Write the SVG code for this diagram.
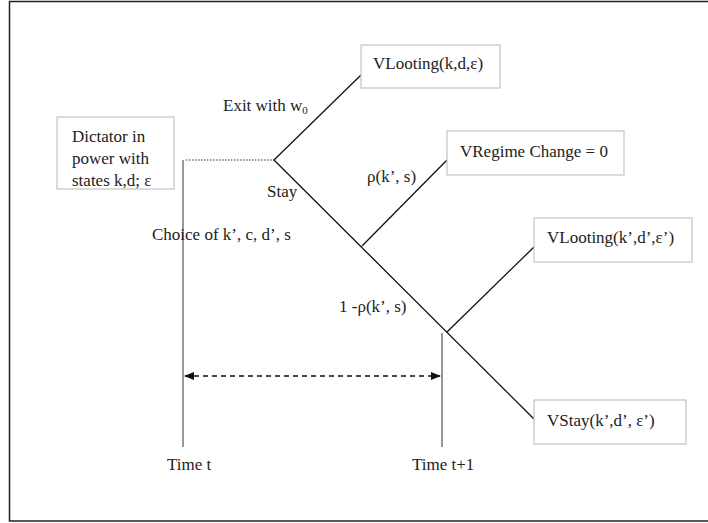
<svg xmlns="http://www.w3.org/2000/svg" width="708" height="523" viewBox="0 0 708 523">
<style>
text{font-family:"Liberation Serif","Times New Roman",serif;font-size:17px;fill:#222}
.box{fill:#fff;stroke:#c4c4c4;stroke-width:1.2}
.ln{stroke:#111;stroke-width:1.3;fill:none}
.tl{stroke:#777;stroke-width:1.5;fill:none}
</style>
<defs>
<marker id="ah" markerWidth="10" markerHeight="8" refX="9" refY="4" orient="auto-start-reverse" markerUnits="userSpaceOnUse">
<path d="M0,0 L10,4 L0,8 Z" fill="#111"/>
</marker>
</defs>
<rect x="9.5" y="1.5" width="710" height="519.5" fill="#fff" stroke="#222" stroke-width="1.5"/>
<g id="connectors">
<line class="tl" x1="183" y1="160" x2="183" y2="447"/>
<line class="tl" x1="442" y1="333" x2="442" y2="447"/>
<line x1="186" y1="160" x2="274" y2="160" stroke="#333" stroke-width="1.2" stroke-dasharray="1.5,1.5"/>
<line class="ln" x1="274" y1="160" x2="361" y2="75"/>
<line class="ln" x1="274" y1="160" x2="534" y2="419"/>
<line class="ln" x1="362" y1="246" x2="447" y2="160"/>
<line class="ln" x1="447" y1="332" x2="534" y2="247"/>
<line x1="185" y1="376" x2="440" y2="376" stroke="#111" stroke-width="1.3" stroke-dasharray="5,4" marker-start="url(#ah)" marker-end="url(#ah)"/>
</g>
<g id="dictator">
<rect class="box" x="57" y="117" width="117" height="72"/>
<text x="72" y="142">Dictator in</text>
<text x="72" y="164">power with</text>
<text x="72" y="186">states k,d; ε</text>
</g>
<g id="vlooting1">
<rect class="box" x="361" y="45" width="139" height="43"/>
<text x="373" y="69">VLooting(k,d,ε)</text>
</g>
<g id="vregime">
<rect class="box" x="447" y="131" width="177" height="44"/>
<text x="460" y="157">VRegime Change = 0</text>
</g>
<g id="vlooting2">
<rect class="box" x="534" y="218" width="158" height="44"/>
<text x="547" y="243">VLooting(k’,d’,ε’)</text>
</g>
<g id="vstay">
<rect class="box" x="534" y="400" width="152" height="44"/>
<text x="547" y="426">VStay(k’,d’, ε’)</text>
</g>
<g id="labels">
<text x="223" y="111">Exit with w<tspan font-size="11" dy="3">0</tspan></text>
<text x="267" y="197">Stay</text>
<text x="367" y="182">ρ(k’, s)</text>
<text x="152" y="240">Choice of k’, c, d’, s</text>
<text x="339" y="312">1 -ρ(k’, s)</text>
<text x="167" y="470">Time t</text>
<text x="412" y="470">Time t+1</text>
</g>
</svg>
